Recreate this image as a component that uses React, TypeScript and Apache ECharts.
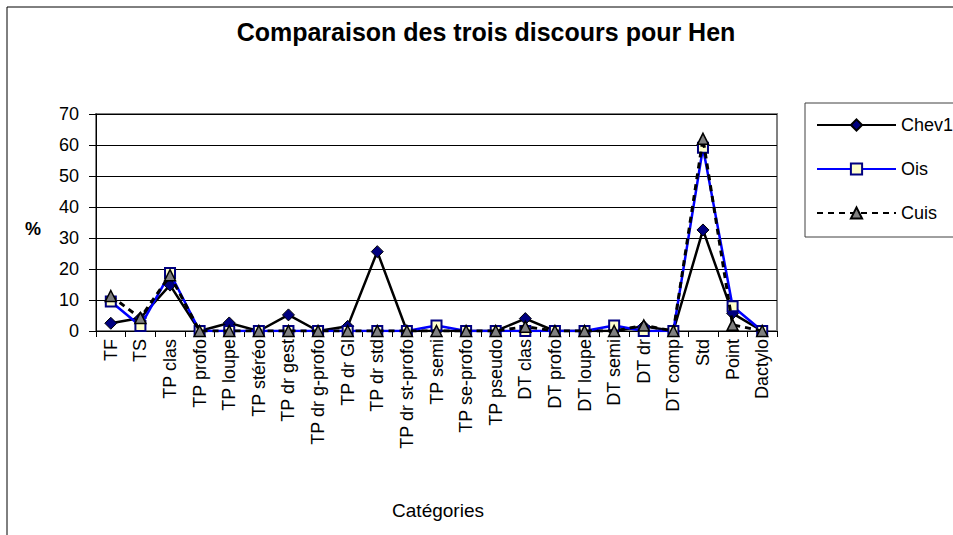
import React, { useEffect, useRef } from "react";
import * as echarts from "echarts";

const categories = [
  "TF", "TS", "TP clas", "TP profo", "TP loupe", "TP stéréo", "TP dr gest",
  "TP dr g-profo", "TP dr Gl", "TP dr std", "TP dr st-profo", "TP semi",
  "TP se-profo", "TP pseudo", "DT clas", "DT profo", "DT loupe", "DT semi",
  "DT dr", "DT comp", "Std", "Point", "Dactylo",
];
const chev1 = [2.5, 4.2, 14.8, 0, 2.6, 0, 5.2, 0, 1.5, 25.6, 0, 0, 0, 0, 4.0, 0, 0, 0, 1.5, 0, 32.6, 5.7, 0];
const ois = [9.5, 1.6, 18.7, 0, 0, 0, 0, 0, 0, 0, 0, 1.8, 0, 0, 0, 0, 0, 1.8, 0, 0, 59.1, 8.0, 0];
const cuis = [11.3, 4.2, 18.0, 0, 0, 0, 0, 0, 0, 0, 0, 0, 0, 0, 1.4, 0, 0, 0, 1.8, 0, 62.0, 2.0, 0];

const FONT = "'Liberation Sans', Arial, sans-serif";

export default function App() {
  const ref = useRef<HTMLDivElement>(null);
  useEffect(() => {
    if (!ref.current) return;
    const chart = echarts.init(ref.current, undefined, { renderer: "svg" });
    chart.setOption({
      animation: false,
      backgroundColor: "#ffffff",
      textStyle: { fontFamily: FONT },
      graphic: [
        {
          type: "rect",
          shape: { x: 7, y: 7, width: 1100, height: 700 },
          style: { fill: "none", stroke: "#000", lineWidth: 1 },
          silent: true,
          z: -10,
        },
        {
          type: "text",
          x: 486,
          y: 32,
          style: {
            text: "Comparaison des trois discours pour Hen",
            font: `bold 25px ${FONT}`,
            fill: "#000",
            textAlign: "center",
            textVerticalAlign: "middle",
          },
        },
        {
          type: "text",
          x: 33,
          y: 229,
          style: {
            text: "%",
            font: `bold 18px ${FONT}`,
            fill: "#000",
            textAlign: "center",
            textVerticalAlign: "middle",
          },
        },
        {
          type: "text",
          x: 438,
          y: 510,
          style: {
            text: "Catégories",
            font: `19px ${FONT}`,
            fill: "#000",
            textAlign: "center",
            textVerticalAlign: "middle",
          },
        },
      ],
      legend: {
        orient: "vertical",
        left: 805,
        top: 103,
        padding: [13, 80, 15, 11],
        itemWidth: 79,
        itemHeight: 14,
        itemGap: 26,
        borderColor: "#404040",
        borderWidth: 1,
        backgroundColor: "#fff",
        textStyle: { fontSize: 18, color: "#000", fontFamily: FONT },
        data: ["Chev1", "Ois", "Cuis"],
      },
      grid: {
        left: 96,
        top: 114,
        right: 176,
        bottom: 204,
        show: true,
        borderColor: "#808080",
        borderWidth: 2,
        backgroundColor: "#fff",
      },
      xAxis: {
        type: "category",
        data: categories,
        boundaryGap: true,
        axisLine: { show: true, lineStyle: { color: "#000", width: 1 } },
        axisTick: { show: true, interval: 0, length: 6, lineStyle: { color: "#000" } },
        axisLabel: {
          interval: 0,
          rotate: 90,
          fontSize: 18,
          color: "#000",
          margin: 8,
          fontFamily: FONT,
        },
        splitLine: { show: false },
      },
      yAxis: {
        type: "value",
        min: 0,
        max: 70,
        interval: 10,
        axisLine: { show: true, lineStyle: { color: "#000", width: 1 } },
        axisTick: { show: true, length: 7, lineStyle: { color: "#000" } },
        axisLabel: { fontSize: 18, color: "#000", margin: 17, fontFamily: FONT },
        splitLine: { show: true, lineStyle: { color: "#000", width: 1 } },
      },
      series: [
        {
          name: "Chev1",
          type: "line",
          data: chev1,
          symbol: "diamond",
          symbolSize: 12,
          lineStyle: { color: "#000", width: 2.5 },
          itemStyle: { color: "#000080", borderColor: "#000", borderWidth: 1 },
          z: 2,
        },
        {
          name: "Ois",
          type: "line",
          data: ois,
          symbol: "rect",
          symbolSize: 10,
          lineStyle: { color: "#0000FF", width: 2.5 },
          itemStyle: { color: "#FFFFCC", borderColor: "#000080", borderWidth: 2 },
          z: 3,
        },
        {
          name: "Cuis",
          type: "line",
          data: cuis,
          symbol: "triangle",
          symbolSize: 11,
          lineStyle: { color: "#000", width: 3, type: [6, 5] },
          itemStyle: { color: "#808080", borderColor: "#000", borderWidth: 1.5 },
          z: 4,
        },
      ],
    });
    return () => chart.dispose();
  }, []);
  return (
    <div
      ref={ref}
      style={{ position: "absolute", left: 0, top: 0, width: 953, height: 535 }}
    />
  );
}
